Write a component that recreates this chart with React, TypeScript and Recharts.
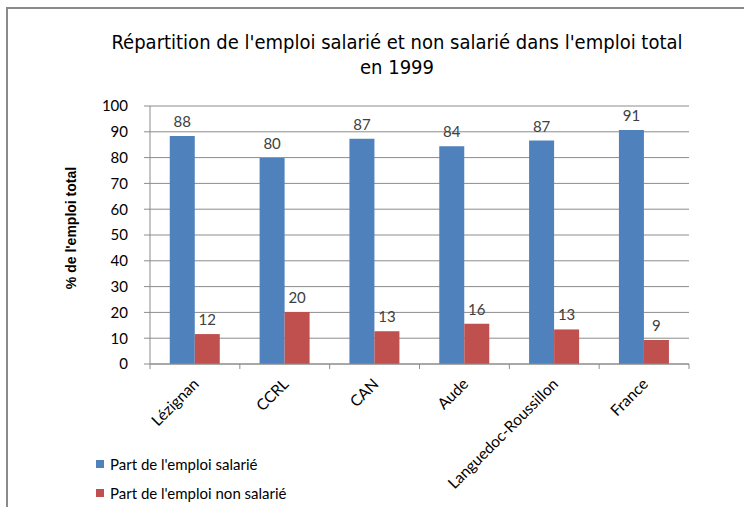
import React from 'react';
import { BarChart, Bar, XAxis, YAxis, CartesianGrid, LabelList } from 'recharts';

const categories = ['Lézignan', 'CCRL', 'CAN', 'Aude', 'Languedoc-Roussillon', 'France'];
const salarie = [88.4, 79.8, 87.3, 84.4, 86.6, 90.7];
const nonSalarie = [11.6, 20.2, 12.7, 15.6, 13.4, 9.3];
const yTicks = [0, 10, 20, 30, 40, 50, 60, 70, 80, 90, 100];
const seriesNames = ["Part de l'emploi salarié", "Part de l'emploi non salarié"];
const titleLines = ["Répartition de l'emploi salarié et non salarié dans l'emploi total", 'en 1999'];
const yTitle = "% de l'emploi total";

const BLUE = '#4F81BD';
const RED = '#C0504D';
const GRID = '#8C8C8C';
const FONT = 'Lato, "Open Sans", sans-serif';

const data = categories.map((c, i) => ({ name: c, salarie: salarie[i], nonSalarie: nonSalarie[i] }));

const XTick = (props: any) => {
  const { x, y, payload, index, visibleTicksCount } = props;
  const half = payload && payload.offset ? payload.offset : 45;
  const last = index === (visibleTicksCount ?? categories.length) - 1;
  return (
    <g>
      <line x1={x - half} x2={x - half} y1={y} y2={y + 5} stroke={GRID} />
      {last && <line x1={x + half} x2={x + half} y1={y} y2={y + 5} stroke={GRID} />}
      <text
        x={x + 5}
        y={y + 21}
        transform={`rotate(-45, ${x + 5}, ${y + 21})`}
        textAnchor="end"
        fill="#000"
        fontSize={15.5}
        fontFamily={FONT}
      >
        {payload.value}
      </text>
    </g>
  );
};

export default function App() {
  return (
    <div style={{ position: 'absolute', left: 0, top: 0, width: 744, height: 507, background: '#fff', overflow: 'hidden' }}>
      <div style={{ position: 'absolute', left: 6, top: 7, width: 744, height: 520, borderLeft: '2px solid #8a8a8a', borderTop: '2px solid #8a8a8a' }} />
      <div
        style={{
          position: 'absolute',
          left: 0,
          width: 794,
          top: 30,
          textAlign: 'center',
          fontFamily: '"Liberation Sans Narrow", "Arial Narrow", "DejaVu Sans Condensed", sans-serif',
          fontSize: 20,
          lineHeight: '25px',
          color: '#000',
        }}
      >
        {titleLines.map((l) => (
          <div key={l}>{l}</div>
        ))}
      </div>
      <div style={{ position: 'absolute', left: 0, top: 0 }}>
        <BarChart
          width={744}
          height={507}
          data={data}
          margin={{ top: 106, right: 55, bottom: 0, left: 0 }}
          barCategoryGap="22%"
          barGap={0}
        >
          <CartesianGrid vertical={false} stroke={GRID} strokeDasharray="" />
          <XAxis
            dataKey="name"
            axisLine={{ stroke: GRID }}
            tickLine={false}
            tickSize={0}
            tickMargin={0}
            interval={0}
            tick={<XTick />}
            height={143}
          />
          <YAxis
            width={150}
            domain={[0, 100]}
            ticks={yTicks}
            interval={0}
            axisLine={{ stroke: GRID }}
            tickLine={{ stroke: GRID }}
            tickSize={6}
            tickMargin={16}
            tick={{ fill: '#000', fontSize: 15, fontFamily: FONT }}
            label={{
              value: yTitle,
              angle: -90,
              position: 'insideLeft',
              dx: 66,
              dy: -7,
              style: { textAnchor: 'middle', fontFamily: '"Liberation Sans", Arial, sans-serif', fontWeight: 'bold', fontSize: 14, fill: '#000' },
            }}
          />
          <Bar dataKey="salarie" name={seriesNames[0]} fill={BLUE} isAnimationActive={false}>
            <LabelList dataKey="salarie" position="top" offset={9} formatter={(v: any) => Math.round(v)} style={{ fill: '#404040', fontSize: 15, fontFamily: FONT }} />
          </Bar>
          <Bar dataKey="nonSalarie" name={seriesNames[1]} fill={RED} isAnimationActive={false}>
            <LabelList dataKey="nonSalarie" position="top" offset={9} formatter={(v: any) => Math.round(v)} style={{ fill: '#404040', fontSize: 15, fontFamily: FONT }} />
          </Bar>
        </BarChart>
      </div>
      <div style={{ position: 'absolute', left: 96, top: 449, fontFamily: FONT, fontSize: 15, color: '#000' }}>
        {seriesNames.map((n, i) => (
          <div key={n} style={{ display: 'flex', alignItems: 'center', height: 29 }}>
            <span style={{ display: 'inline-block', width: 8, height: 8, background: i === 0 ? BLUE : RED, marginRight: 6 }} />
            <span>{n}</span>
          </div>
        ))}
      </div>
    </div>
  );
}
